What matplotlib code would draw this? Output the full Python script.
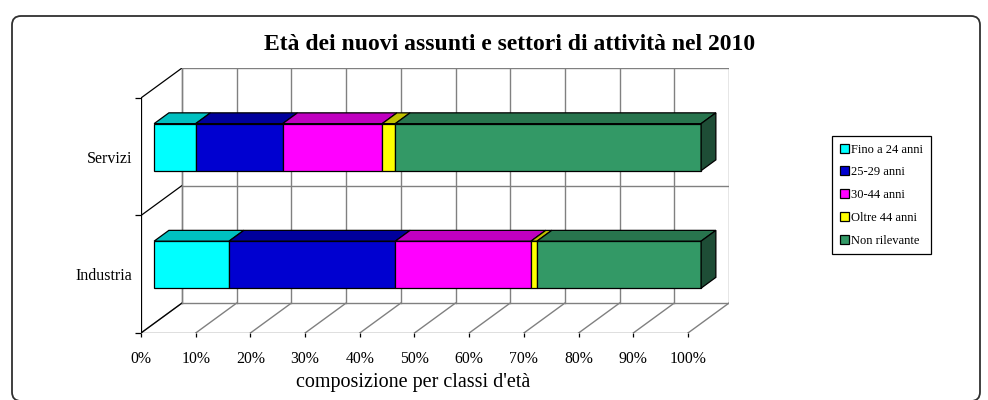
import matplotlib
matplotlib.use("Agg")
import matplotlib.pyplot as plt
from matplotlib.patches import Polygon, FancyBboxPatch
import numpy as np

plt.rcParams['font.family'] = ['Liberation Serif', 'DejaVu Serif']

# ---- data ----
categories = ["Industria", "Servizi"]
series = ["Fino a 24 anni", "25-29 anni", "30-44 anni", "Oltre 44 anni", "Non rilevante"]
industria = [13.7, 30.4, 24.8, 1.1, 30.0]
servizi = [7.6, 15.9, 18.2, 2.4, 55.9]
values = [industria, servizi]
xticks = [0, 10, 20, 30, 40, 50, 60, 70, 80, 90, 100]
xticklabels = ["0%", "10%", "20%", "30%", "40%", "50%", "60%", "70%", "80%", "90%", "100%"]
title = "Età dei nuovi assunti e settori di attività nel 2010"
xlabel = "composizione per classi d'età"

front_colors = ["#00FFFF", "#0000D0", "#FF00FF", "#FFFF00", "#339966"]
top_colors = ["#00C0C0", "#00009C", "#C000C0", "#C0C000", "#28754E"]
side_colors = ["#008080", "#000070", "#800080", "#808000", "#1E4D36"]

W, H = 988, 400
fig = plt.figure(figsize=(W / 100, H / 100), dpi=100)

# background overlay in pixel units for the rounded outer frame
bg = fig.add_axes([0, 0, 1, 1], zorder=-5)
bg.set_xlim(0, W)
bg.set_ylim(H, 0)
bg.axis("off")
frame = FancyBboxPatch((12, 16), 968, 385,
                       boxstyle="round,pad=0,rounding_size=9",
                       fill=False, edgecolor="#303030", linewidth=1.3,
                       clip_on=False)
bg.add_patch(frame)

# depth (3D) offsets in data units
DX, DY = 7.5, 0.255
ncat = len(categories)
ax = fig.add_axes([141 / W, (H - 333) / H, (729 - 141) / W, (333 - 68) / H])
ax.set_xlim(0, 100 + DX)
ax.set_ylim(0, ncat + DY)
for s in ax.spines.values():
    s.set_visible(False)
ax.patch.set_visible(False)

grid_c = "#808080"
# back wall vertical grid lines and floor diagonals
for x in xticks:
    ax.plot([x + DX, x + DX], [DY, ncat + DY], color=grid_c, lw=1.0, zorder=1)
    ax.plot([x, x + DX], [0, DY], color=grid_c, lw=1.0, zorder=1)
# back wall horizontal lines + left wall diagonals
for k in range(ncat + 1):
    ax.plot([DX, 100 + DX], [k + DY, k + DY], color=grid_c, lw=1.0, zorder=1)
    ax.plot([0, DX], [k, k + DY], color="black", lw=0.9, zorder=1)
ax.plot([DX, DX], [DY, ncat + DY], color=grid_c, lw=1.0, zorder=1)
# front axes lines
ax.plot([0, 0], [0, ncat], color="black", lw=0.9, zorder=2)
ax.plot([0, 100], [0, 0], color="black", lw=0.9, zorder=2)

# bars
f0, f1 = 0.32, 0.68
h = 0.4
containers = []
for j, name in enumerate(series):
    vals = np.array([v[j] for v in values])
    lefts = np.array([sum(v[:j]) for v in values])
    centers = np.arange(ncat) + 0.5
    c = ax.barh(centers + f0 * DY, vals, left=lefts + f0 * DX, height=h,
                color=front_colors[j], edgecolor="black", linewidth=0.9,
                label=name, zorder=3)
    containers.append(c)
    for i in range(ncat):
        L = lefts[i] + f0 * DX
        R = lefts[i] + vals[i] + f0 * DX
        yt = centers[i] + h / 2 + f0 * DY
        yb = centers[i] - h / 2 + f0 * DY
        ddx, ddy = (f1 - f0) * DX, (f1 - f0) * DY
        top = Polygon([(L, yt), (R, yt), (R + ddx, yt + ddy), (L + ddx, yt + ddy)],
                      closed=True, facecolor=top_colors[j], edgecolor="black",
                      linewidth=0.9, zorder=3)
        ax.add_patch(top)
        if j == len(series) - 1:
            side = Polygon([(R, yb), (R, yt), (R + ddx, yt + ddy), (R + ddx, yb + ddy)],
                           closed=True, facecolor=side_colors[j], edgecolor="black",
                           linewidth=0.9, zorder=3)
            ax.add_patch(side)

# ticks
ax.set_xticks(xticks)
ax.set_xticklabels(xticklabels, fontsize=11.3)
ax.tick_params(axis="x", direction="out", length=3, width=0.9, pad=10, color="black")
ax.set_yticks(range(ncat + 1))
ax.set_yticklabels([])
ax.set_yticks(np.arange(ncat) + 0.5, minor=True)
ax.set_yticklabels(categories, minor=True, fontsize=11.5)
ax.tick_params(axis="y", which="major", direction="out", length=4, width=0.9)
ax.tick_params(axis="y", which="minor", length=0, pad=6)

fig.text(413 / W, 1 - 383 / H, xlabel, ha="center", va="center", fontsize=14.5)
fig.text(510 / W, 1 - 44 / H, title, ha="center", va="center", fontsize=17,
         fontweight="bold")

leg = fig.legend(handles=containers, labels=series, loc="upper left",
                 bbox_to_anchor=(832 / W, 1 - 136 / H), fontsize=9,
                 frameon=True, fancybox=False, framealpha=1, edgecolor="black",
                 handlelength=0.72, handleheight=0.72, handletextpad=0.2,
                 labelspacing=0.86, borderpad=0.6, borderaxespad=0)
leg.get_frame().set_linewidth(0.9)

fig.savefig("out.png", dpi=100)
